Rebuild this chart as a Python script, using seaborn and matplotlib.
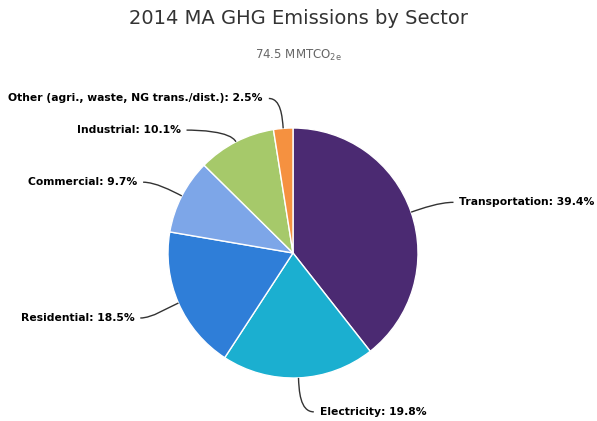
import numpy as np
import matplotlib
matplotlib.use("Agg")
import matplotlib.pyplot as plt
from matplotlib.path import Path
from matplotlib.patches import PathPatch
import seaborn as sns

# data
sectors = ["Transportation", "Electricity", "Residential", "Commercial", "Industrial",
           "Other (agri., waste, NG trans./dist.)"]
shares = [39.4, 19.8, 18.5, 9.7, 10.1, 2.5]
colors = ["#4b2a72", "#1bafd0", "#2f7ed8", "#7da6e8", "#a6c96a", "#f59140"]

sns.set_style("white")
plt.rcParams["font.family"] = ["DejaVu Sans"]
plt.rcParams["mathtext.default"] = "regular"

W, H = 597, 421
fig = plt.figure(figsize=(W / 100, H / 100), dpi=100)
ax = fig.add_axes([0, 0, 1, 1])

cx, cy, r = 293, H - 253, 125
wedges, _ = ax.pie(shares, colors=sns.color_palette(colors), startangle=90, counterclock=False,
                   center=(cx, cy), radius=r, frame=True,
                   wedgeprops=dict(edgecolor="white", linewidth=1))
ax.set_xlim(0, W)
ax.set_ylim(0, H)
ax.set_aspect("equal")
ax.axis("off")

# label layout: labels sit on a circle 30px outside the pie, some pushed vertically
dist = 30
nudge = [0, -4, -3, 0, -15, 0]
for w, name, val, dy in zip(wedges, sectors, shares, nudge):
    ang = np.deg2rad((w.theta1 + w.theta2) / 2)
    ex, ey = cx + r * np.cos(ang), cy + r * np.sin(ang)
    ly = cy + (r + dist) * np.sin(ang) + dy
    right = np.cos(ang) >= 0
    sgn = 1 if right else -1
    rem = (r + dist) ** 2 - (ly - cy) ** 2
    if rem > 0 and abs(np.cos(ang)) > 0.2:
        lx = cx + sgn * np.sqrt(rem)
    else:
        lx = cx + (r + dist) * np.cos(ang)
    tx = lx + sgn * (20 if right else 18)
    c1 = (cx + (r + 12) * np.cos(ang), cy + (r + 12) * np.sin(ang))
    path = Path([(ex, ey), c1, (lx, ly), (tx - sgn * 6, ly)],
                [Path.MOVETO, Path.CURVE4, Path.CURVE4, Path.CURVE4])
    ax.add_patch(PathPatch(path, fc="none", ec="#333333", lw=1))
    ax.text(tx, ly, f"{name}: {val}%", ha="left" if right else "right", va="center",
            fontsize=7.75, fontweight="bold", color="black")

fig.text(0.5, 1 - 18 / H, "2014 MA GHG Emissions by Sector", ha="center", va="center",
         fontsize=14, color="#333333")
fig.text(0.5, 1 - 55 / H, "74.5 MMTCO$_{2e}$", ha="center", va="center",
         fontsize=8.5, color="#666666")

fig.savefig("out.png", dpi=100)
